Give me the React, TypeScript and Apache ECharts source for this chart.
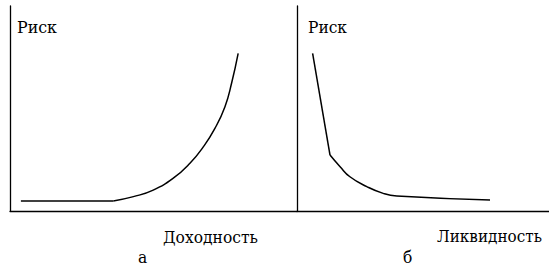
import React, { useEffect, useRef } from "react";
import * as echarts from "echarts";

// Panel "а": risk vs. return (arbitrary units 0..100)
const returnFlatX = [3.8, 36.0];
const returnFlatRisk = [4.9, 4.9];
const returnCurveX = [36.0, 43.0, 49.9, 56.9, 62.7, 67.4, 71.4, 74.9, 77.2, 79.5];
const returnCurveRisk = [4.9, 7.0, 10.2, 16.0, 23.3, 31.4, 40.3, 50.9, 62.3, 76.9];

// Panel "б": risk vs. liquidity (arbitrary units 0..100)
const liqSteepX = [6.2, 13.1];
const liqSteepRisk = [76.9, 27.3];
const liqCurveX = [13.1, 17.1, 21.0, 27.7, 34.2, 39.6, 76.6];
const liqCurveRisk = [27.3, 21.6, 16.7, 11.9, 8.6, 7.3, 5.4];

const axisTitleY = "Риск";
const axisTitleA = "Доходность";
const axisTitleB = "Ликвидность";
const panelA = "а";
const panelB = "б";

const zip = (xs: number[], ys: number[]) => xs.map((x, i) => [x, ys[i]]);

const FONT = '16px "DejaVu Serif", serif';

function measure(text: string): number {
  const ctx = document.createElement("canvas").getContext("2d");
  if (!ctx) return text.length * 9;
  ctx.font = FONT;
  return ctx.measureText(text).width;
}

export default function App() {
  const ref = useRef<HTMLDivElement>(null);
  useEffect(() => {
    if (!ref.current) return;
    const chart = echarts.init(ref.current, null, { renderer: "svg" });
    const axisLine = { show: true, lineStyle: { color: "#000", width: 1.3 } };
    const valAxis = (gridIndex: number) => ({
      type: "value",
      gridIndex,
      min: 0,
      max: 100,
      axisLine,
      axisTick: { show: false },
      axisLabel: { show: false },
      splitLine: { show: false },
    });
    const line = (xi: number, data: number[][], smooth: number | boolean) => ({
      type: "line",
      xAxisIndex: xi,
      yAxisIndex: xi,
      data,
      smooth,
      symbol: "none",
      lineStyle: { color: "#000", width: 1.5 },
    });
    const wordScale = 95 / measure(axisTitleA);
    const label = (text: string, x: number, y: number, width?: number) => ({
      type: "text",
      x,
      y,
      scaleX: width ? width / measure(text) : wordScale,
      style: {
        text,
        font: FONT,
        fill: "#000",
        align: "left",
        verticalAlign: "middle",
      },
    });
    chart.setOption({
      animation: false,
      backgroundColor: "#fff",
      grid: [
        { left: 10, top: 6, width: 287, height: 205 },
        { left: 297, top: 6, width: 252, height: 205 },
      ],
      xAxis: [valAxis(0), valAxis(1)],
      yAxis: [valAxis(0), valAxis(1)],
      series: [
        line(0, zip(returnFlatX, returnFlatRisk), false),
        line(0, zip(returnCurveX, returnCurveRisk), 0.5),
        line(1, zip(liqSteepX, liqSteepRisk), false),
        line(1, zip(liqCurveX, liqCurveRisk), 0.5),
      ],
      graphic: [
        label(axisTitleY, 17, 27, 40),
        label(axisTitleY, 308, 27, 39),
        label(axisTitleA, 163, 237, 95),
        label(axisTitleB, 437, 237, 105),
        label(panelA, 138, 257),
        label(panelB, 403, 257),
      ],
    });
    return () => chart.dispose();
  }, []);
  return (
    <div
      ref={ref}
      style={{ position: "absolute", left: 0, top: 0, width: 549, height: 270 }}
    />
  );
}
